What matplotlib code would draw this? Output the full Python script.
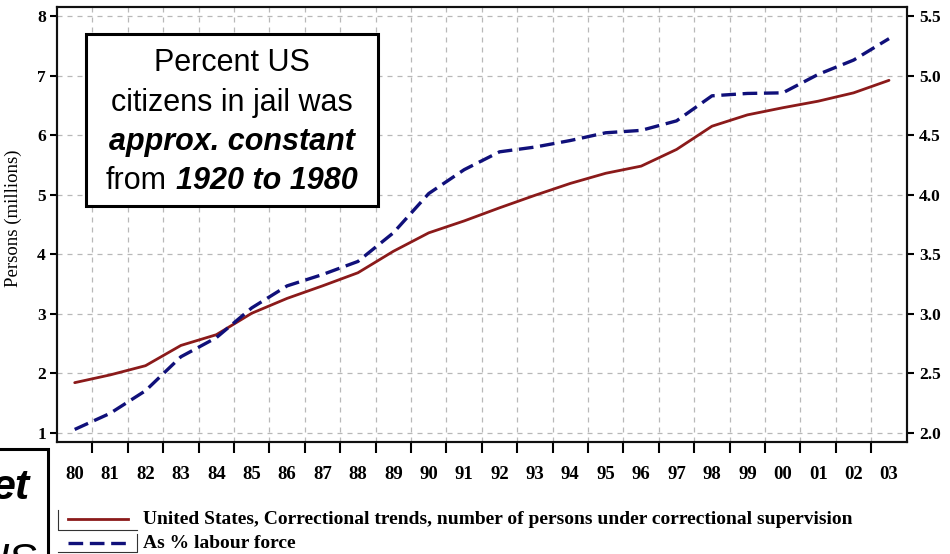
import numpy as np
import matplotlib
matplotlib.use('Agg')
import matplotlib.pyplot as plt
from matplotlib.patches import Rectangle
from matplotlib.lines import Line2D

# ---- data ----
years = ['80', '81', '82', '83', '84', '85', '86', '87', '88', '89', '90', '91',
         '92', '93', '94', '95', '96', '97', '98', '99', '00', '01', '02', '03']
persons_millions = [1.845, 1.975, 2.13, 2.47, 2.65, 3.01, 3.26, 3.47, 3.69, 4.05,
                    4.36, 4.56, 4.78, 4.99, 5.19, 5.36, 5.48, 5.76, 6.15, 6.34,
                    6.46, 6.57, 6.71, 6.92]
labour_pct = [2.03, 2.165, 2.355, 2.64, 2.80, 3.05, 3.235, 3.33, 3.44, 3.68,
              4.01, 4.21, 4.36, 4.40, 4.455, 4.52, 4.54, 4.62, 4.83, 4.85,
              4.855, 5.01, 5.13, 5.31]
left_ticks = [1, 2, 3, 4, 5, 6, 7, 8]
right_ticks = [2.0, 2.5, 3.0, 3.5, 4.0, 4.5, 5.0, 5.5]
legend_labels = ['United States, Correctional trends, number of persons under correctional supervision',
                 'As % labour force']

RED = '#8B1A1A'
BLUE = '#10107A'
SERIF = 'Liberation Serif'
SANS = 'Liberation Sans'

W, H = 950, 554
fig = plt.figure(figsize=(9.5, 5.54), dpi=100)


def fx(px):
    return px / W


def fy(py):
    return 1 - py / H


ax = fig.add_axes([fx(57), fy(442.3), fx(906.7) - fx(57), fy(7.3) - fy(442.3)])
ax2 = ax.twinx()

x = np.arange(len(years))
ax.plot(x, persons_millions, color=RED, lw=2.0, zorder=3, solid_capstyle='round')
ax2.plot(x, labour_pct, color=BLUE, lw=2.4, dashes=(4.4, 2.0), zorder=3)

ax.set_xlim(-0.5, len(years) - 0.5)
ax.set_ylim(0.844, 8.146)
ax2.set_ylim(1.922, 5.573)

ax.set_xticks(x[:-1] + 0.5)
ax.set_xticklabels([])
ax.set_xticks(x, minor=True)
ax.set_xticklabels(years, minor=True, fontfamily=SERIF, fontweight='bold', fontsize=13.5)
ax.tick_params(axis='x', which='major', length=8, width=1.5, direction='out')
ax.tick_params(axis='x', which='minor', length=0, pad=17)

ax.set_yticks(left_ticks)
ax.set_yticklabels([str(v) for v in left_ticks], fontfamily=SERIF, fontweight='bold', fontsize=12.5)
ax.tick_params(axis='y', length=5, width=1.5, pad=3)
ax2.set_yticks(right_ticks)
ax2.set_yticklabels(['%.1f' % v for v in right_ticks], fontfamily=SERIF, fontweight='bold', fontsize=12.5)
ax2.tick_params(axis='y', length=5, width=1.5, pad=4)

ax.grid(True, which='major', axis='both', ls=(0, (4, 4)), color='#b8b8b8', lw=0.9)
for a in (ax, ax2):
    for s in a.spines.values():
        s.set_linewidth(1.5)
        s.set_color('#111111')

ax.set_ylabel('Persons (millions)', fontfamily=SERIF, fontsize=13.5)
ax.yaxis.set_label_coords((22 - 57) / 849.7, 0.515)

# ---- annotation box ----
fig.add_artist(Rectangle((fx(86), fy(206)), fx(378) - fx(86), fy(34) - fy(206),
                         transform=fig.transFigure, fc='white', ec='black', lw=2.2, zorder=5))
cx = 232
FS = 22
kw = dict(fontfamily=SANS, fontsize=FS, ha='center', va='center', zorder=6)
fig.text(fx(cx), fy(63), 'Percent US', **kw)
fig.text(fx(cx), fy(103), 'citizens in jail was', **kw)
fig.text(fx(cx), fy(142), 'approx. constant', fontweight='bold', fontstyle='italic', **kw)
r = fig.canvas.get_renderer()
t1 = fig.text(0, fy(181), 'from', fontfamily=SANS, fontsize=FS, ha='left', va='center', zorder=6)
t2 = fig.text(0, fy(181), '1920 to 1980', fontfamily=SANS, fontsize=FS, fontweight='bold',
              fontstyle='italic', ha='left', va='center', zorder=6)
w1 = t1.get_window_extent(r).width
w2 = t2.get_window_extent(r).width
gap = 9
start = cx - (w1 + gap + w2) / 2
t1.set_x(fx(start))
t2.set_x(fx(start + w1 + gap))

# ---- legend ----
fig.add_artist(Line2D([fx(68), fx(128)], [fy(519), fy(519)], transform=fig.transFigure,
                      color=RED, lw=2.0))
fig.add_artist(Line2D([fx(68), fx(128)], [fy(543), fy(543)], transform=fig.transFigure,
                      color=BLUE, lw=2.4, dashes=(4.4, 2.0)))
for pts in ([(58, 510), (58, 530), (137, 530)], [(137, 534), (137, 552), (58, 552)]):
    xs = [fx(p[0]) for p in pts]
    ys = [fy(p[1]) for p in pts]
    fig.add_artist(Line2D(xs, ys, transform=fig.transFigure, color='#333333', lw=0.8))
fig.text(fx(143), fy(519), legend_labels[0], fontfamily=SERIF, fontweight='bold', fontsize=14,
         ha='left', va='center')
fig.text(fx(143), fy(543), legend_labels[1], fontfamily=SERIF, fontweight='bold', fontsize=14,
         ha='left', va='center')

# ---- cropped box at bottom-left ----
fig.add_artist(Rectangle((fx(-20), fy(620)), fx(48) - fx(-20), fy(449) - fy(620),
                         transform=fig.transFigure, fc='white', ec='black', lw=2.2, zorder=5))
fig.text(fx(30), fy(488), 'et', fontfamily=SANS, fontsize=31, fontweight='bold', fontstyle='italic',
         ha='right', va='center', zorder=6)
fig.text(fx(37), fy(562), 'US', fontfamily=SANS, fontsize=31, fontstyle='italic',
         ha='right', va='center', zorder=6)

fig.savefig('out.png', dpi=100)
